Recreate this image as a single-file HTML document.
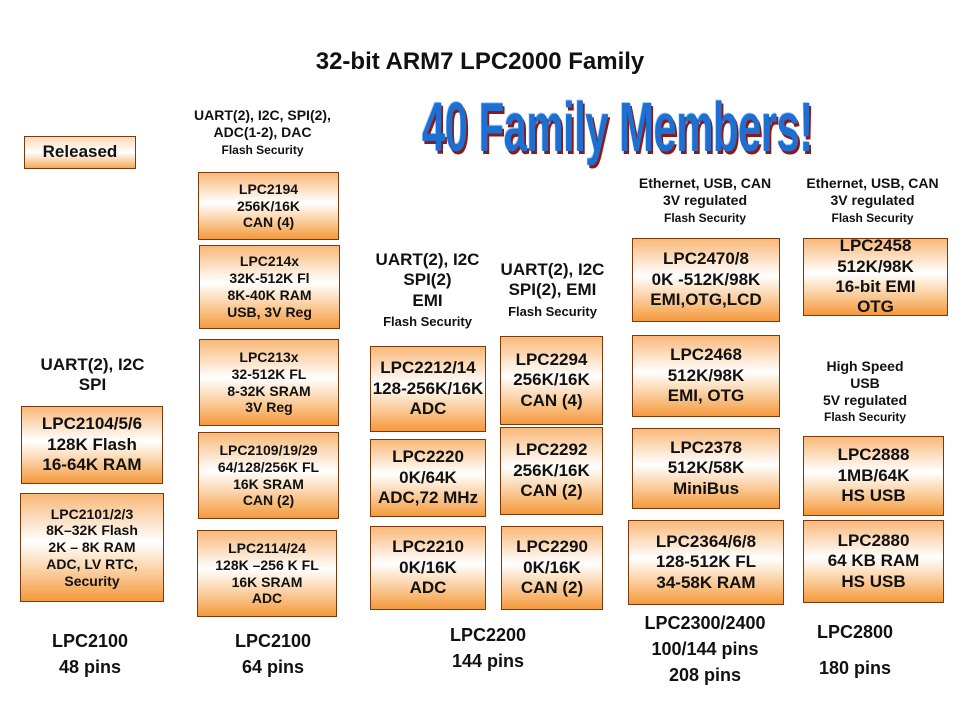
<!DOCTYPE html>
<html><head><meta charset="utf-8"><style>
body{margin:0;width:960px;height:720px;background:#fff;position:relative;overflow:hidden;font-family:"Liberation Sans",sans-serif;font-weight:bold;color:#111}
.b{position:absolute;box-sizing:border-box;border:1px solid #7a3a10;background:linear-gradient(#f9b878 0%,#fde8d4 30%,#fff 45%,#fbd3a8 70%,#f5993c 100%);display:flex;flex-direction:column;justify-content:center;align-items:center;text-align:center;line-height:1.2}
.t{position:absolute;text-align:center;line-height:1.2}
</style></head><body>
<div class="t" style="left:0;width:960px;top:48px;font-size:24px">32-bit ARM7 LPC2000 Family</div>
<div style="position:absolute;left:422px;top:92px;white-space:nowrap;font-size:70px;line-height:70px;color:#1f6fd0;transform-origin:0 0;transform:scaleX(0.6);text-shadow:3px 3px 0 #8a1a1a,-1px -1px 0 #9fd0ff;letter-spacing:-1px">40 Family Members!</div>
<div class="b" style="left:24px;top:136px;width:112px;height:33px;font-size:17px;background:linear-gradient(#fcd9b5,#fff 50%,#f7a859)">Released</div>

<div class="t" style="left:175px;width:175px;top:107px;font-size:14px">UART(2), I2C, SPI(2),<br>ADC(1-2), DAC<br><span style="font-size:12px">Flash Security</span></div>
<div class="t" style="left:0;width:185px;top:355px;font-size:17px">UART(2), I2C<br>SPI</div>
<div class="t" style="left:360px;width:135px;top:250px;font-size:17px">UART(2), I2C<br>SPI(2)<br>EMI<br><span style="font-size:13px">Flash Security</span></div>
<div class="t" style="left:490px;width:125px;top:260px;font-size:17px">UART(2), I2C<br>SPI(2), EMI<br><span style="font-size:13px">Flash Security</span></div>
<div class="t" style="left:610px;width:190px;top:175px;font-size:14px">Ethernet, USB, CAN<br>3V regulated<br><span style="font-size:12px">Flash Security</span></div>
<div class="t" style="left:785px;width:175px;top:175px;font-size:14px">Ethernet, USB, CAN<br>3V regulated<br><span style="font-size:12px">Flash Security</span></div>
<div class="t" style="left:790px;width:150px;top:358px;font-size:14px">High Speed<br>USB<br>5V regulated<br><span style="font-size:12px">Flash Security</span></div>

<div class="b" style="left:21px;top:406px;width:142px;height:78px;font-size:17px">LPC2104/5/6<br>128K Flash<br>16-64K RAM</div>
<div class="b" style="left:20px;top:493px;width:144px;height:109px;font-size:14px">LPC2101/2/3<br>8K–32K Flash<br>2K – 8K RAM<br>ADC, LV RTC,<br>Security</div>

<div class="b" style="left:198px;top:172px;width:141px;height:68px;font-size:14px">LPC2194<br>256K/16K<br>CAN (4)</div>
<div class="b" style="left:199px;top:245px;width:141px;height:84px;font-size:14px">LPC214x<br>32K-512K Fl<br>8K-40K RAM<br>USB, 3V Reg</div>
<div class="b" style="left:199px;top:339px;width:140px;height:87px;font-size:14px">LPC213x<br>32-512K FL<br>8-32K SRAM<br>3V Reg</div>
<div class="b" style="left:198px;top:432px;width:141px;height:87px;font-size:14px">LPC2109/19/29<br>64/128/256K FL<br>16K SRAM<br>CAN (2)</div>
<div class="b" style="left:197px;top:530px;width:140px;height:87px;font-size:14px">LPC2114/24<br>128K –256 K FL<br>16K SRAM<br>ADC</div>

<div class="b" style="left:370px;top:346px;width:116px;height:86px;font-size:17px">LPC2212/14<br>128-256K/16K<br>ADC</div>
<div class="b" style="left:370px;top:439px;width:116px;height:78px;font-size:17px">LPC2220<br>0K/64K<br>ADC,72 MHz</div>
<div class="b" style="left:370px;top:526px;width:116px;height:84px;font-size:17px">LPC2210<br>0K/16K<br>ADC</div>

<div class="b" style="left:500px;top:336px;width:103px;height:89px;font-size:17px">LPC2294<br>256K/16K<br>CAN (4)</div>
<div class="b" style="left:500px;top:427px;width:103px;height:88px;font-size:17px">LPC2292<br>256K/16K<br>CAN (2)</div>
<div class="b" style="left:501px;top:526px;width:102px;height:84px;font-size:17px">LPC2290<br>0K/16K<br>CAN (2)</div>

<div class="b" style="left:632px;top:238px;width:148px;height:84px;font-size:17px">LPC2470/8<br>0K -512K/98K<br>EMI,OTG,LCD</div>
<div class="b" style="left:632px;top:335px;width:148px;height:82px;font-size:17px">LPC2468<br>512K/98K<br>EMI, OTG</div>
<div class="b" style="left:632px;top:428px;width:148px;height:81px;font-size:17px">LPC2378<br>512K/58K<br>MiniBus</div>
<div class="b" style="left:628px;top:520px;width:156px;height:85px;font-size:17px">LPC2364/6/8<br>128-512K FL<br>34-58K RAM</div>

<div class="b" style="left:803px;top:238px;width:145px;height:78px;font-size:17px">LPC2458<br>512K/98K<br>16-bit EMI<br>OTG</div>
<div class="b" style="left:803px;top:436px;width:141px;height:80px;font-size:17px">LPC2888<br>1MB/64K<br>HS USB</div>
<div class="b" style="left:803px;top:520px;width:141px;height:83px;font-size:17px">LPC2880<br>64 KB RAM<br>HS USB</div>

<div class="t" style="left:10px;width:160px;top:628px;font-size:18px;line-height:26px">LPC2100<br>48 pins</div>
<div class="t" style="left:193px;width:160px;top:628px;font-size:18px;line-height:26px">LPC2100<br>64 pins</div>
<div class="t" style="left:408px;width:160px;top:622px;font-size:18px;line-height:26px">LPC2200<br>144 pins</div>
<div class="t" style="left:620px;width:170px;top:610px;font-size:18px;line-height:26px">LPC2300/2400<br>100/144 pins<br>208 pins</div>
<div class="t" style="left:775px;width:160px;top:614px;font-size:18px;line-height:36px">LPC2800<br>180 pins</div>
</body></html>
